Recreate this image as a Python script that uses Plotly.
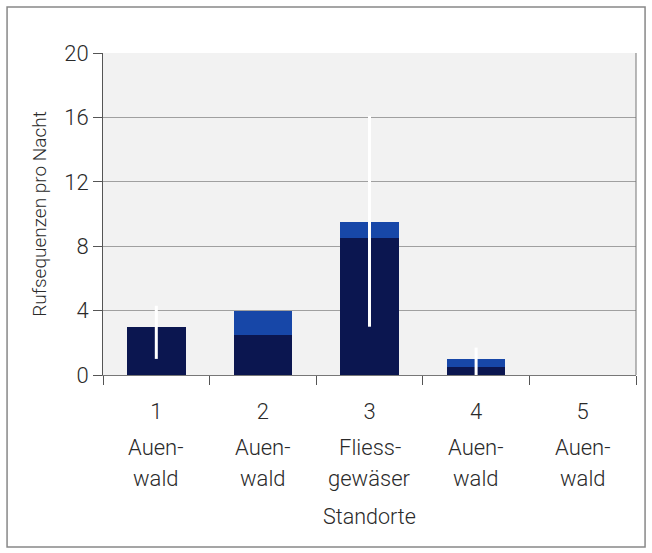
import plotly.graph_objects as go

# site categories and stacked bar values (calls per night)
sites = ["1", "2", "3", "4", "5"]
names_top = ["Auen-", "Auen-", "Fliess-", "Auen-", "Auen-"]
names_bottom = ["wald", "wald", "gewäser", "wald", "wald"]
dark_part = [3.0, 2.5, 8.5, 0.5, 0.0]
blue_part = [0.0, 1.5, 1.0, 0.5, 0.0]
# white range lines (min / max)
range_low = [1.0, None, 3.0, 0.0, None]
range_high = [4.3, None, 16.1, 1.7, None]
y_ticks = [0, 4, 8, 12, 16, 20]

DARK = "#0b1650"
BLUE = "#1747a8"
FONT = dict(family="Roboto, Liberation Sans, Arial, sans-serif", size=22,
            color="#2a2a2a", weight=300)

fig = go.Figure()
fig.add_trace(go.Bar(x=sites, y=dark_part, marker=dict(color=DARK, line=dict(width=0)),
                     width=0.55))
fig.add_trace(go.Bar(x=sites, y=blue_part, marker=dict(color=BLUE, line=dict(width=0)),
                     width=0.55))

ex, ey, eplus = [], [], []
for s, lo, hi in zip(sites, range_low, range_high):
    if lo is None:
        continue
    ex.append(s)
    ey.append(lo)
    eplus.append(hi - lo)
fig.add_trace(go.Scatter(
    x=ex, y=ey, mode="markers", marker=dict(opacity=0, size=1),
    error_y=dict(type="data", symmetric=False, array=eplus,
                 arrayminus=[0] * len(ey), color="white", thickness=3, width=0),
))

# two-line site names under the category numbers (x = category index)
for i, (a, b) in enumerate(zip(names_top, names_bottom)):
    fig.add_annotation(x=i, xref="x", yref="paper", y=-0.226, text=a,
                       showarrow=False, font=FONT, yanchor="middle")
    fig.add_annotation(x=i, xref="x", yref="paper", y=-0.321, text=b,
                       showarrow=False, font=FONT, yanchor="middle")

fig.update_layout(
    width=652, height=553,
    barmode="stack",
    bargap=0.45,
    showlegend=False,
    paper_bgcolor="white",
    plot_bgcolor="#f2f2f2",
    margin=dict(l=103, r=16, t=53, b=178),
    font=FONT,
    shapes=[dict(type="rect", xref="paper", yref="paper",
                 x0=-0.180, x1=1.017, y0=-0.534, y1=1.143,
                 line=dict(color="#888888", width=1.5)),
            dict(type="line", xref="paper", yref="paper", x0=1, x1=1, y0=0, y1=1,
                 line=dict(color="#777777", width=1))],
)
fig.update_xaxes(
    type="category",
    tickvals=sites, ticktext=sites,
    tickson="boundaries", ticks="outside", ticklen=9, tickcolor="#555555",
    ticklabelstandoff=17,
    showline=True, linecolor="#777777", linewidth=1,
    showgrid=False,
    title=dict(text="Standorte", font=dict(FONT, size=21.5), standoff=85),
    tickfont=FONT,
)
fig.update_yaxes(
    range=[0, 20], tickvals=y_ticks,
    ticks="outside", ticklen=9, tickcolor="#555555",
    showline=True, linecolor="#555555", linewidth=1,
    gridcolor="#a0a0a0", gridwidth=1,
    zeroline=False,
    title=dict(text="Rufsequenzen pro Nacht", font=dict(FONT, size=19), standoff=12),
    tickfont=FONT,
)

fig.write_html("out.html", config={"displayModeBar": False},
               post_script="document.body.style.margin='0';")
